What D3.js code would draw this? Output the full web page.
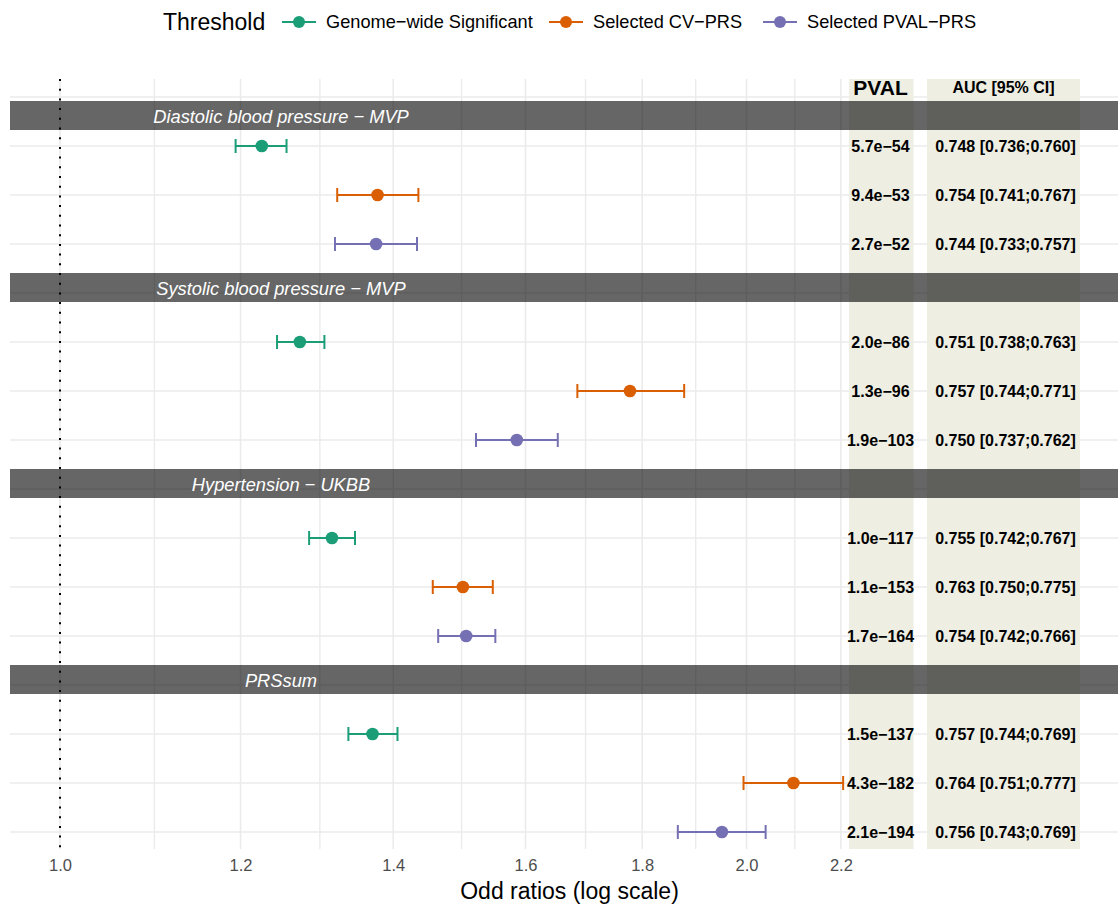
<!DOCTYPE html>
<html>
<head>
<meta charset="utf-8">
<script src="https://cdn.jsdelivr.net/npm/d3@7"></script>
<style>
  html, body { margin: 0; padding: 0; background: #fff; }
  svg { display: block; font-family: "Liberation Sans", Arial, Helvetica, sans-serif; }
</style>
</head>
<body>
<svg id="chart" width="1118" height="904"></svg>
<script>
// Outcomes (facets) and PRS thresholds
const outcomes = ["Diastolic blood pressure \u2212 MVP", "Systolic blood pressure \u2212 MVP", "Hypertension \u2212 UKBB", "PRSsum"];
const thresholds = ["Genome\u2212wide Significant", "Selected CV\u2212PRS", "Selected PVAL\u2212PRS"];
const colors = ["#1B9E77", "#D95F02", "#7570B3"];

// Odds ratios and 95% CI, one row per outcome, one column per threshold
const orEstimate = [
  [1.226, 1.378, 1.376],
  [1.274, 1.778, 1.586],
  [1.316, 1.502, 1.507],
  [1.371, 2.097, 1.951]
];
const orLower = [
  [1.194, 1.323, 1.320],
  [1.245, 1.686, 1.522],
  [1.286, 1.457, 1.465],
  [1.338, 1.994, 1.866]
];
const orUpper = [
  [1.257, 1.436, 1.434],
  [1.306, 1.878, 1.653],
  [1.347, 1.548, 1.552],
  [1.406, 2.205, 2.039]
];
const pvalLabels = [
  ["5.7e\u221254", "9.4e\u221253", "2.7e\u221252"],
  ["2.0e\u221286", "1.3e\u221296", "1.9e\u2212103"],
  ["1.0e\u2212117", "1.1e\u2212153", "1.7e\u2212164"],
  ["1.5e\u2212137", "4.3e\u2212182", "2.1e\u2212194"]
];
const aucLabels = [
  ["0.748 [0.736;0.760]", "0.754 [0.741;0.767]", "0.744 [0.733;0.757]"],
  ["0.751 [0.738;0.763]", "0.757 [0.744;0.771]", "0.750 [0.737;0.762]"],
  ["0.755 [0.742;0.767]", "0.763 [0.750;0.775]", "0.754 [0.742;0.766]"],
  ["0.757 [0.744;0.769]", "0.764 [0.751;0.777]", "0.756 [0.743;0.769]"]
];
const majorTicks = [1.0, 1.2, 1.4, 1.6, 1.8, 2.0, 2.2];
const minorTicks = [1.1, 1.3, 1.5, 1.7, 1.9, 2.1];

const svg = d3.select("#chart");
const W = 1118;

// Layout
const panelLeft = 10, panelTop = 79, panelBottom = 849;
const x = d3.scaleLog().domain([1, 2]).range([60, 746.5]);
// 4 slots per outcome: first slot is covered by the strip, then 3 thresholds
const nSlots = outcomes.length * 4;
const y = d3.scaleLinear().domain([0, nSlots - 1]).range([97, 832]);
const slot = (i, j) => i * 4 + 1 + j;

const pvalCol = { x0: 849, x1: 913.5, cx: 880.5 };
const aucCol = { x0: 927, x1: 1080, cx: 1005.5 };

// Grid
const grid = svg.append("g");
grid.selectAll("line.hgrid").data(d3.range(nSlots)).join("line")
  .attr("x1", panelLeft).attr("x2", W)
  .attr("y1", d => y(d)).attr("y2", d => y(d))
  .attr("stroke", "#EBEBEB").attr("stroke-width", 1.5);
grid.selectAll("line.minor").data(minorTicks).join("line")
  .attr("x1", d => x(d)).attr("x2", d => x(d))
  .attr("y1", panelTop).attr("y2", panelBottom)
  .attr("stroke", "#EBEBEB").attr("stroke-width", 1.4);
grid.selectAll("line.major").data(majorTicks).join("line")
  .attr("x1", d => x(d)).attr("x2", d => x(d))
  .attr("y1", panelTop).attr("y2", panelBottom)
  .attr("stroke", "#EBEBEB").attr("stroke-width", 1.6);

// Table background columns
[pvalCol, aucCol].forEach(c => {
  svg.append("rect")
    .attr("x", c.x0).attr("y", panelTop)
    .attr("width", c.x1 - c.x0).attr("height", panelBottom - panelTop)
    .attr("fill", "#EEEEE3");
});

// Reference line at OR = 1
svg.append("line")
  .attr("x1", x(1)).attr("x2", x(1))
  .attr("y1", panelTop).attr("y2", panelBottom)
  .attr("stroke", "#000").attr("stroke-width", 2)
  .attr("stroke-dasharray", "2 7.7");

// Facet strips (semi-transparent black bands)
const strips = svg.append("g");
outcomes.forEach((name, i) => {
  const yc = y(i * 4);
  const top = i === 0 ? yc + 4 : yc - 20;
  strips.append("rect")
    .attr("x", panelLeft).attr("y", top)
    .attr("width", W - panelLeft).attr("height", 29)
    .attr("fill", "#000").attr("fill-opacity", 0.6);
  strips.append("text")
    .attr("x", 281).attr("y", top + 15)
    .attr("text-anchor", "middle").attr("dominant-baseline", "central")
    .attr("font-style", "italic").attr("font-size", 18.3)
    .attr("fill", "#fff")
    .text(name);
});

// Error bars and points
const marks = svg.append("g");
outcomes.forEach((name, i) => {
  thresholds.forEach((t, j) => {
    const yy = y(slot(i, j));
    const g = marks.append("g").attr("stroke", colors[j]).attr("stroke-width", 2);
    g.append("line").attr("x1", x(orLower[i][j])).attr("x2", x(orUpper[i][j]))
      .attr("y1", yy).attr("y2", yy);
    g.append("line").attr("x1", x(orLower[i][j])).attr("x2", x(orLower[i][j]))
      .attr("y1", yy - 7).attr("y2", yy + 7);
    g.append("line").attr("x1", x(orUpper[i][j])).attr("x2", x(orUpper[i][j]))
      .attr("y1", yy - 7).attr("y2", yy + 7);
    marks.append("circle").attr("cx", x(orEstimate[i][j])).attr("cy", yy)
      .attr("r", 6.3).attr("fill", colors[j]);
  });
});

// Table text
const table = svg.append("g").attr("font-weight", "bold").attr("fill", "#000");
outcomes.forEach((name, i) => {
  thresholds.forEach((t, j) => {
    const yy = y(slot(i, j));
    table.append("text").attr("x", pvalCol.cx).attr("y", yy)
      .attr("text-anchor", "middle").attr("dominant-baseline", "central")
      .attr("font-size", 16).text(pvalLabels[i][j]);
    table.append("text").attr("x", aucCol.cx).attr("y", yy)
      .attr("text-anchor", "middle").attr("dominant-baseline", "central")
      .attr("font-size", 16).text(aucLabels[i][j]);
  });
});
table.append("text").attr("x", pvalCol.cx).attr("y", 87)
  .attr("text-anchor", "middle").attr("dominant-baseline", "central")
  .attr("font-size", 21).text("PVAL");
table.append("text").attr("x", aucCol.cx - 2).attr("y", 87)
  .attr("text-anchor", "middle").attr("dominant-baseline", "central")
  .attr("font-size", 16).text("AUC [95% CI]");

// X axis
const xAxis = d3.axisBottom(x).tickValues(majorTicks).tickFormat(d3.format(".1f")).tickSize(0).tickPadding(0);
const ax = svg.append("g").attr("transform", `translate(0, ${panelBottom + 10})`).call(xAxis);
ax.select(".domain").remove();
ax.selectAll("text").attr("font-size", 16.5).attr("fill", "#4D4D4D")
  .attr("font-family", "Liberation Sans, Arial, sans-serif");
svg.append("text").attr("x", 569.5).attr("y", 891)
  .attr("text-anchor", "middle").attr("dominant-baseline", "central")
  .attr("font-size", 23).attr("fill", "#000")
  .text("Odd ratios (log scale)");

// Legend
const legend = svg.append("g");
legend.append("text").attr("x", 163).attr("y", 22)
  .attr("dominant-baseline", "central").attr("font-size", 23).text("Threshold");
const keyX = [282, 549, 763];
thresholds.forEach((t, j) => {
  const k = legend.append("g").attr("transform", `translate(${keyX[j]}, 22)`);
  k.append("line").attr("x1", 0).attr("x2", 34).attr("y1", 0).attr("y2", 0)
    .attr("stroke", colors[j]).attr("stroke-width", 2.2);
  k.append("circle").attr("cx", 17).attr("cy", 0).attr("r", 6).attr("fill", colors[j]);
  k.append("text").attr("x", 44).attr("y", 0).attr("dominant-baseline", "central")
    .attr("font-size", 18.2).text(t);
});
</script>
</body>
</html>
